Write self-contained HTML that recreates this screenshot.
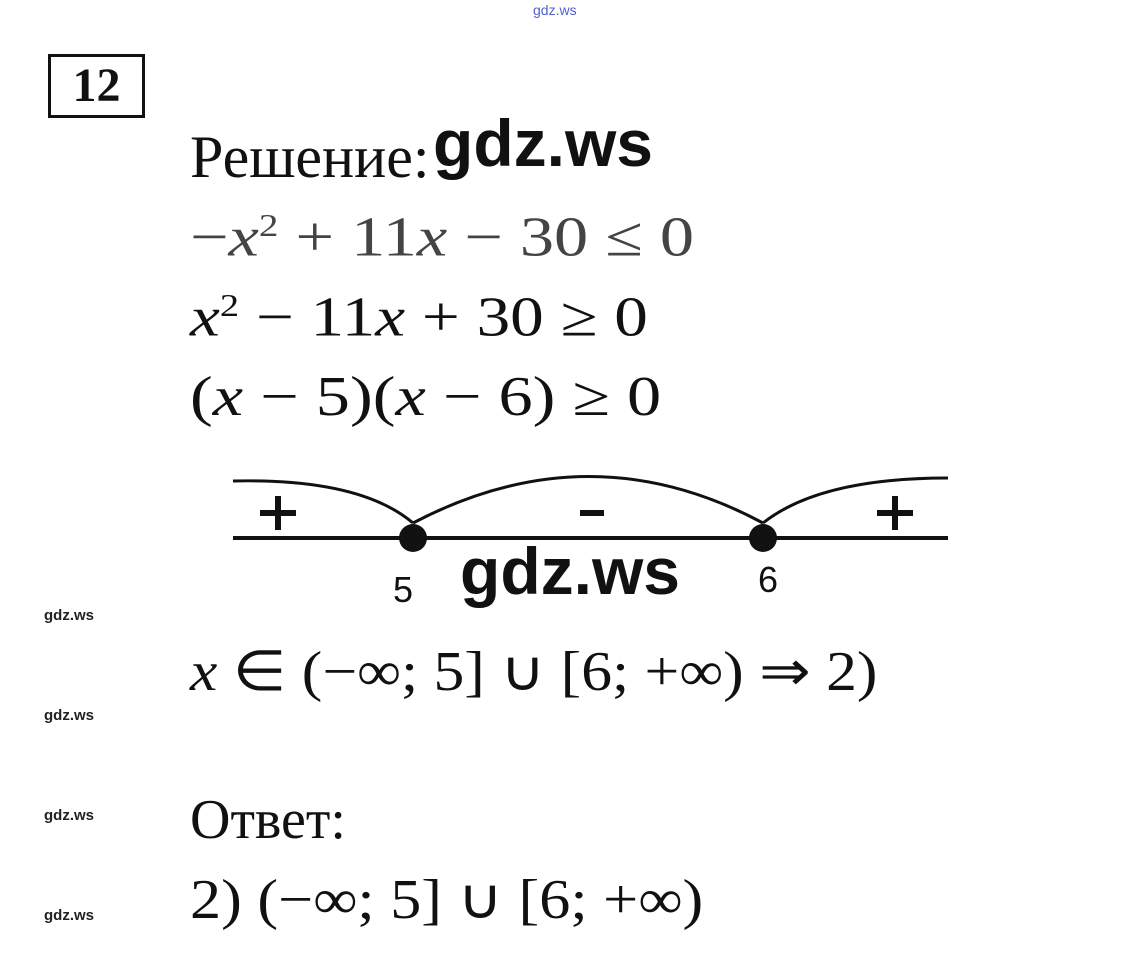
<!DOCTYPE html>
<html><head><meta charset="utf-8"><style>
body{margin:0;width:1121px;height:978px;background:#fff;position:relative;overflow:hidden;font-family:"Liberation Serif",serif;color:#111}
.a{position:absolute;white-space:nowrap;line-height:1}
.m{font-size:56px;transform-origin:0 0}
.m i{font-style:italic}
.s{font-family:"Liberation Sans",sans-serif;font-weight:bold;font-size:15px;color:#222}
.g{font-family:"Liberation Sans",sans-serif;font-weight:bold;font-size:66px;color:#111}
</style></head><body>
<div class="a" style="left:533px;top:3px;font-family:'Liberation Sans',sans-serif;font-size:14px;color:#5060d0">gdz.ws</div>
<div class="a" style="left:48px;top:54px;width:91px;height:58px;border:3px solid #111;font-weight:bold;font-size:48px;text-align:center;line-height:58px">12</div>
<div class="a" style="left:190px;top:127px;font-size:60px">Решение:</div>
<div class="a g" style="left:433px;top:110px">gdz.ws</div>
<div class="a m" style="left:190px;top:209px;color:#444;transform:scaleX(1.22)">−<i>x</i><sup style="font-size:32px">2</sup> + 11<i>x</i> − 30 ≤ 0</div>
<div class="a m" style="left:190px;top:289px;transform:scaleX(1.2)"><i>x</i><sup style="font-size:32px">2</sup> − 11<i>x</i> + 30 ≥ 0</div>
<div class="a m" style="left:190px;top:369px;transform:scaleX(1.22)">(<i>x</i> − 5)(<i>x</i> − 6) ≥ 0</div>
<svg class="a" style="left:0;top:0" width="1121" height="978">
<line x1="233" y1="538" x2="948" y2="538" stroke="#111" stroke-width="4"/>
<path d="M233 481 Q360 478 413 523" fill="none" stroke="#111" stroke-width="3"/>
<path d="M413 523 Q590 430 763 523" fill="none" stroke="#111" stroke-width="3"/>
<path d="M763 523 Q820 478 948 478" fill="none" stroke="#111" stroke-width="3"/>
<circle cx="413" cy="538" r="14" fill="#111"/>
<circle cx="763" cy="538" r="14" fill="#111"/>
<path d="M260 513h36M278 496v34M877 513h36M895 496v34M580 513h24" stroke="#111" stroke-width="6"/>
</svg>
<div class="a" style="left:393px;top:572px;font-family:'Liberation Sans',sans-serif;font-size:36px">5</div>
<div class="a" style="left:758px;top:562px;font-family:'Liberation Sans',sans-serif;font-size:36px">6</div>
<div class="a g" style="left:460px;top:538px">gdz.ws</div>
<div class="a s" style="left:44px;top:608px">gdz.ws</div>
<div class="a s" style="left:44px;top:708px">gdz.ws</div>
<div class="a s" style="left:44px;top:808px">gdz.ws</div>
<div class="a s" style="left:44px;top:908px">gdz.ws</div>
<div class="a m" style="left:190px;top:644px;transform:scaleX(1.1)"><i>x</i> ∈ (−∞; 5] ∪ [6; +∞) ⇒ 2)</div>
<div class="a" style="left:190px;top:792px;font-size:56px">Ответ:</div>
<div class="a m" style="left:190px;top:872px;transform:scaleX(1.11)">2) (−∞; 5] ∪ [6; +∞)</div>
</body></html>
